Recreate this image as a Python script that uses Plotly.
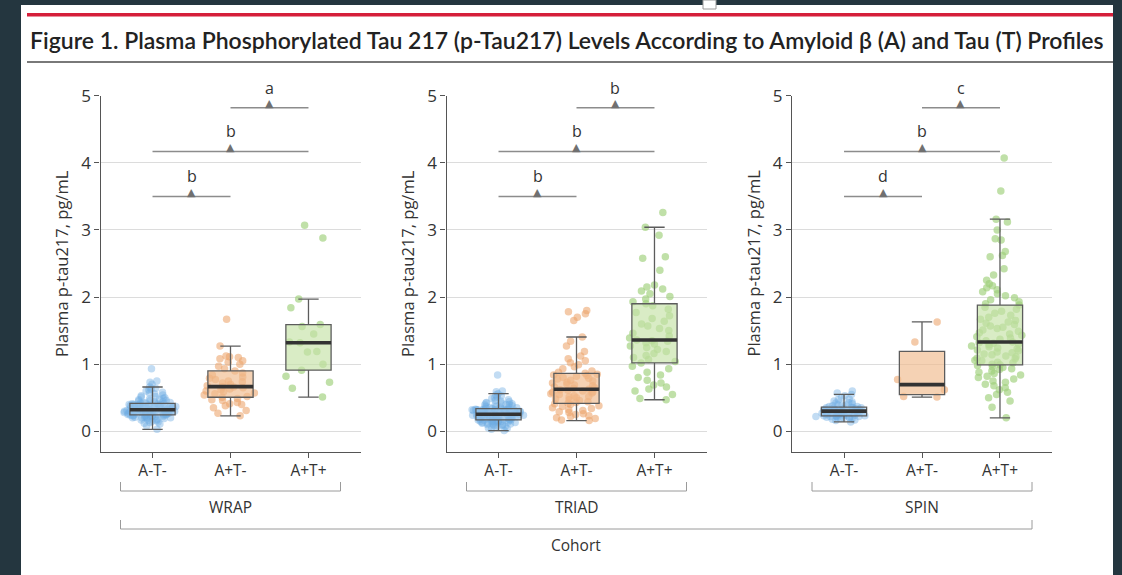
import numpy as np
import plotly.graph_objects as go

W, H = 1122, 575
FONT = "Open Sans"
TITLE_FONT = "Lato"

title_text = "Figure 1. Plasma Phosphorylated Tau 217 (p-Tau217) Levels According to Amyloid β (A) and Tau (T) Profiles"
y_title = "Plasma p-tau217, pg/mL"
cohorts = ["WRAP", "TRIAD", "SPIN"]
profiles = ["A-T-", "A+T-", "A+T+"]
y_ticks = [0, 1, 2, 3, 4, 5]

# ---- values (pg/mL) ----
wrap_neg_neg = [0.03, 0.08, 0.11, 0.13, 0.15, 0.16, 0.17, 0.18, 0.19, 0.20, 0.20, 0.21, 0.21, 0.22, 0.22,
                0.23, 0.23, 0.24, 0.24, 0.24, 0.245, 0.25, 0.25, 0.26, 0.26, 0.27, 0.27, 0.27, 0.28, 0.28,
                0.29, 0.29, 0.29, 0.30, 0.30, 0.30, 0.31, 0.31, 0.31, 0.32, 0.32, 0.33, 0.33, 0.33, 0.34,
                0.34, 0.35, 0.35, 0.36, 0.36, 0.37, 0.37, 0.38, 0.38, 0.39, 0.39, 0.40, 0.40, 0.41, 0.41,
                0.415, 0.42, 0.43, 0.44, 0.45, 0.46, 0.47, 0.48, 0.49, 0.50, 0.52, 0.54, 0.56, 0.58, 0.60,
                0.63, 0.66, 0.70, 0.73, 0.75, 0.93,
                0.12, 0.14, 0.17, 0.19, 0.20, 0.21, 0.22, 0.23, 0.23, 0.24,
                0.25, 0.26, 0.27, 0.28, 0.28, 0.29, 0.30, 0.30, 0.31, 0.32,
                0.33, 0.34, 0.35, 0.36, 0.37, 0.38, 0.39, 0.40, 0.40, 0.41,
                0.42, 0.43, 0.44, 0.46, 0.48, 0.51, 0.53, 0.57, 0.62, 0.64]
wrap_pos_neg = [0.23, 0.27, 0.31, 0.35, 0.38, 0.40, 0.41, 0.43, 0.46, 0.47, 0.49, 0.507, 0.52, 0.54, 0.56,
                0.57, 0.59, 0.60, 0.62, 0.63, 0.65, 0.66, 0.665, 0.68, 0.70, 0.72, 0.74, 0.75, 0.77, 0.79,
                0.81, 0.84, 0.87, 0.90, 0.93, 0.97, 1.00, 1.03, 1.05, 1.08, 1.10, 1.11, 1.12, 1.27, 1.67]
wrap_pos_pos = [0.51, 0.64, 0.73, 0.82, 0.91, 1.00, 1.18, 1.19, 1.32, 1.33, 1.45, 1.56, 1.59, 1.84, 1.97,
                2.88, 3.07]

triad_neg_neg = [0.01, 0.03, 0.05, 0.07, 0.08, 0.09, 0.10, 0.11, 0.12, 0.12, 0.13, 0.13, 0.14, 0.14, 0.15,
                 0.15, 0.16, 0.16, 0.16, 0.17, 0.17, 0.18, 0.18, 0.19, 0.19, 0.20, 0.20, 0.21, 0.21, 0.22,
                 0.22, 0.22, 0.23, 0.23, 0.24, 0.24, 0.24, 0.25, 0.25, 0.25, 0.253, 0.26, 0.26, 0.27, 0.27,
                 0.28, 0.28, 0.29, 0.29, 0.30, 0.30, 0.31, 0.31, 0.31, 0.32, 0.32, 0.32, 0.33, 0.33, 0.33,
                 0.337, 0.34, 0.35, 0.35, 0.36, 0.37, 0.38, 0.39, 0.40, 0.41, 0.42, 0.43, 0.45, 0.47, 0.49,
                 0.51, 0.53, 0.56, 0.59, 0.60, 0.84,
                 0.04, 0.06, 0.09, 0.10, 0.11, 0.13, 0.14, 0.15, 0.16, 0.17,
                 0.18, 0.19, 0.20, 0.21, 0.22, 0.23, 0.23, 0.24, 0.25, 0.25,
                 0.26, 0.27, 0.28, 0.29, 0.30, 0.31, 0.32, 0.32, 0.33, 0.33,
                 0.34, 0.36, 0.37, 0.39, 0.40, 0.42, 0.44, 0.46, 0.50, 0.54]
triad_pos_neg = [0.16, 0.17, 0.19, 0.20, 0.22, 0.23, 0.25, 0.26, 0.28, 0.29, 0.31, 0.32, 0.34, 0.35, 0.37,
                 0.38, 0.40, 0.41, 0.417, 0.43, 0.44, 0.46, 0.47, 0.48, 0.50, 0.51, 0.52, 0.53, 0.55, 0.56,
                 0.57, 0.58, 0.59, 0.60, 0.61, 0.62, 0.626, 0.64, 0.65, 0.66, 0.68, 0.69, 0.70, 0.72, 0.73,
                 0.75, 0.76, 0.78, 0.79, 0.80, 0.82, 0.83, 0.84, 0.85, 0.864, 0.88, 0.90, 0.93, 0.96, 0.99,
                 1.02, 1.05, 1.08, 1.12, 1.19, 1.27, 1.34, 1.405, 1.65, 1.70, 1.75, 1.78, 1.80]
triad_pos_pos = [0.47, 0.49, 0.55, 0.60, 0.63, 0.66, 0.69, 0.72, 0.76, 0.80, 0.84, 0.88, 0.93, 0.97, 1.018,
                 1.04, 1.07, 1.10, 1.13, 1.16, 1.19, 1.22, 1.25, 1.27, 1.30, 1.32, 1.34, 1.35, 1.36, 1.39,
                 1.42, 1.46, 1.50, 1.53, 1.57, 1.60, 1.64, 1.68, 1.72, 1.77, 1.82, 1.87, 1.90, 1.93, 1.97,
                 2.01, 2.05, 2.09, 2.12, 2.15, 2.18, 2.40, 2.58, 2.60, 2.92, 3.04, 3.26]

spin_neg_neg = [0.14, 0.16, 0.18, 0.19, 0.20, 0.21, 0.21, 0.22, 0.22, 0.22, 0.23, 0.23, 0.23, 0.24, 0.24,
                0.25, 0.26, 0.26, 0.27, 0.27, 0.28, 0.28, 0.29, 0.29, 0.30, 0.30, 0.31, 0.31, 0.32, 0.32,
                0.33, 0.33, 0.34, 0.34, 0.35, 0.35, 0.36, 0.37, 0.38, 0.39, 0.40, 0.42, 0.43, 0.45, 0.47,
                0.50, 0.53, 0.57, 0.60,
                0.17, 0.19, 0.20, 0.21, 0.22, 0.23, 0.24, 0.25, 0.26, 0.27, 0.28, 0.29,
                0.30, 0.31, 0.32, 0.33, 0.34, 0.35, 0.37, 0.39, 0.41, 0.44, 0.48, 0.55]
spin_pos_neg = [0.51, 0.52, 0.62, 0.77, 1.33, 1.63]
spin_pos_pos = [0.20, 0.36, 0.45, 0.50, 0.55, 0.58, 0.62, 0.65, 0.68, 0.70, 0.73, 0.75, 0.78, 0.80, 0.82,
                0.84, 0.86, 0.88, 0.90, 0.92, 0.93, 0.95, 0.96, 0.98, 0.99, 1.00, 1.02, 1.03, 1.05, 1.06,
                1.08, 1.09, 1.11, 1.12, 1.14, 1.15, 1.17, 1.18, 1.20, 1.21, 1.23, 1.24, 1.26, 1.27, 1.29,
                1.30, 1.31, 1.32, 1.33, 1.35, 1.37, 1.39, 1.41, 1.43, 1.45, 1.47, 1.49, 1.51, 1.53, 1.55,
                1.57, 1.59, 1.61, 1.63, 1.65, 1.67, 1.70, 1.73, 1.76, 1.79, 1.82, 1.85, 1.88, 1.90, 1.93,
                1.96, 1.99, 2.02, 2.05, 2.08, 2.11, 2.14, 2.17, 2.20, 2.25, 2.33, 2.42, 2.60, 2.62, 2.68,
                2.85, 2.87, 3.00, 3.12, 3.16, 3.58, 4.07]

# significance brackets: pairs of groups, bracket level (pg/mL), letters per cohort
sig_pairs = [(0, 1), (0, 2), (1, 2)]
sig_levels = [3.50, 4.17, 4.82]
wrap_sig = ["b", "b", "a"]
triad_sig = ["b", "b", "b"]
spin_sig = ["d", "b", "c"]

groups = {"WRAP": [wrap_neg_neg, wrap_pos_neg, wrap_pos_pos],
          "TRIAD": [triad_neg_neg, triad_pos_neg, triad_pos_pos],
          "SPIN": [spin_neg_neg, spin_pos_neg, spin_pos_pos]}
sig_letters = {"WRAP": wrap_sig, "TRIAD": triad_sig, "SPIN": spin_sig}

point_colors = ["rgba(110,172,226,0.42)", "rgba(236,164,106,0.58)", "rgba(158,207,122,0.65)"]
box_fills = ["rgba(160,202,236,0.55)", "rgba(240,186,140,0.65)", "rgba(196,226,166,0.65)"]


def px(x):
    return x / W


def py(y):
    return 1 - y / H


def box_stats(v):
    a = np.sort(np.asarray(v, dtype=float))
    q1, med, q3 = np.percentile(a, [25, 50, 75])
    iqr = q3 - q1
    lo = a[a >= q1 - 1.5 * iqr].min()
    hi = a[a <= q3 + 1.5 * iqr].max()
    return q1, med, q3, lo, hi


panel_left = [100.5, 446.5, 792.0]
panel_w = 260.0
plot_top, plot_bot = 95.7, 451.7
y_range = [-0.304, 5.0]

fig = go.Figure()
shapes = []
annotations = []

for i, coh in enumerate(cohorts):
    xa = "x" if i == 0 else f"x{i+1}"
    ya = "y" if i == 0 else f"y{i+1}"
    for j, prof in enumerate(profiles):
        vals = groups[coh][j]
        q1, med, q3, lo, hi = box_stats(vals)
        # jittered points
        fig.add_trace(go.Box(
            x=[prof] * len(vals), y=vals, boxpoints="all", jitter=1.0, pointpos=0,
            width=0.74, fillcolor="rgba(0,0,0,0)", line=dict(width=0, color="rgba(0,0,0,0)"),
            whiskerwidth=0, marker=dict(color=point_colors[j], size=7.5, line=dict(width=0)),
            xaxis=xa, yaxis=ya, showlegend=False, hoverinfo="skip"))
        # box + whiskers
        fig.add_trace(go.Box(
            x=[prof], q1=[q1], median=[med], q3=[q3], lowerfence=[lo], upperfence=[hi],
            width=0.58, fillcolor=box_fills[j], line=dict(color="#5c5c5c", width=1.3),
            whiskerwidth=0.45, boxpoints=False, xaxis=xa, yaxis=ya, showlegend=False,
            hoverinfo="skip"))
        # thick median bar
        fig.add_trace(go.Box(
            x=[prof], q1=[med], median=[med], q3=[med], lowerfence=[med], upperfence=[med],
            width=0.58, fillcolor="rgba(0,0,0,0)", line=dict(color="#333333", width=3.6),
            whiskerwidth=0, boxpoints=False, xaxis=xa, yaxis=ya, showlegend=False,
            hoverinfo="skip"))

    L = panel_left[i]
    axis_common = dict(showline=True, linecolor="#555555", linewidth=1.2, ticks="outside",
                       ticklen=5, tickcolor="#555555", zeroline=False, fixedrange=True,
                       automargin=False)
    fig.layout[("xaxis" if i == 0 else f"xaxis{i+1}")] = dict(
        domain=[px(L), px(L + panel_w)], range=[-0.667, 2.667], type="category",
        categoryorder="array", categoryarray=profiles, showgrid=False, anchor=ya,
        tickfont=dict(family=FONT, size=15.5, color="#333333"), **axis_common)
    fig.layout[("yaxis" if i == 0 else f"yaxis{i+1}")] = dict(
        domain=[py(plot_bot), py(plot_top)], range=y_range, tickvals=y_ticks,
        showgrid=True, gridcolor="#dcdcdc", gridwidth=1, anchor=xa,
        tickfont=dict(family=FONT, size=17, color="#333333"), **axis_common)

    # significance brackets
    for k, (a, b) in enumerate(sig_pairs):
        lvl = sig_levels[k]
        shapes.append(dict(type="line", xref=xa, yref=ya, x0=a, x1=b, y0=lvl, y1=lvl,
                           line=dict(color="#8c8c8c", width=1.5)))
        annotations.append(dict(xref=xa, yref=ya, x=(a + b) / 2, y=lvl, text="▲",
                                showarrow=False, yanchor="middle", yshift=4,
                                font=dict(family="DejaVu Sans", size=11, color="#707070")))
        annotations.append(dict(xref=xa, yref=ya, x=(a + b) / 2, y=lvl, text=sig_letters[coh][k],
                                showarrow=False, yanchor="middle", yshift=20,
                                font=dict(family=FONT, size=16, color="#333333")))

    # y-axis title
    annotations.append(dict(xref="paper", yref="paper", x=px(L - 39), y=py(263.5), text=y_title,
                            textangle=-90, showarrow=False, xanchor="center", yanchor="middle",
                            font=dict(family=FONT, size=16.5, color="#333333")))

    # cohort sub-bracket
    bx0, bx1 = L + 20, L + 240
    for xs, ys in [((bx0, bx0), (482, 491)), ((bx1, bx1), (482, 491)), ((bx0, bx1), (491, 491))]:
        shapes.append(dict(type="line", xref="paper", yref="paper", x0=px(xs[0]), x1=px(xs[1]),
                           y0=py(ys[0]), y1=py(ys[1]), line=dict(color="#9a9a9a", width=1)))
    annotations.append(dict(xref="paper", yref="paper", x=px(L + 130), y=py(507), text=coh,
                            showarrow=False, xanchor="center", yanchor="middle",
                            font=dict(family=FONT, size=15.5, color="#333333")))

# outer "Cohort" bracket
cx0, cx1 = panel_left[0] + 20, panel_left[2] + 240
for xs, ys in [((cx0, cx0), (520, 529)), ((cx1, cx1), (520, 529)), ((cx0, cx1), (529, 529))]:
    shapes.append(dict(type="line", xref="paper", yref="paper", x0=px(xs[0]), x1=px(xs[1]),
                       y0=py(ys[0]), y1=py(ys[1]), line=dict(color="#9a9a9a", width=1)))
annotations.append(dict(xref="paper", yref="paper", x=px((cx0 + cx1) / 2), y=py(545), text="Cohort",
                        showarrow=False, xanchor="center", yanchor="middle",
                        font=dict(family=FONT, size=15.5, color="#333333")))

# page frame: white sheet, red rule, title, grey rule
bg_shapes = [
    dict(type="rect", xref="paper", yref="paper", x0=px(21), x1=px(1113), y0=py(575), y1=py(5),
         fillcolor="white", line=dict(width=0), layer="below"),
    dict(type="rect", xref="paper", yref="paper", x0=px(27), x1=px(1113), y0=py(16.5), y1=py(13),
         fillcolor="#d51f3a", line=dict(width=0), layer="below"),
    dict(type="line", xref="paper", yref="paper", x0=px(27), x1=px(1113), y0=py(62), y1=py(62),
         line=dict(color="#4d4d4d", width=1.5), layer="below"),
    dict(type="rect", xref="paper", yref="paper", x0=px(703), x1=px(716), y0=py(9), y1=py(0),
         fillcolor="white", line=dict(color="#9a9a9a", width=1), layer="above"),
]
annotations.append(dict(xref="paper", yref="paper", x=px(28), y=py(40), text=title_text,
                        showarrow=False, xanchor="left", yanchor="middle",
                        font=dict(family=TITLE_FONT, size=23, color="#222222", weight=600)))

fig.update_layout(
    width=W, height=H, margin=dict(l=0, r=0, t=0, b=0, autoexpand=False),
    paper_bgcolor="#24363f", plot_bgcolor="white",
    boxmode="overlay", showlegend=False,
    shapes=bg_shapes + shapes, annotations=annotations,
    font=dict(family=FONT, color="#333333"),
)

fig.write_html("out.html", config={"displayModeBar": False})
